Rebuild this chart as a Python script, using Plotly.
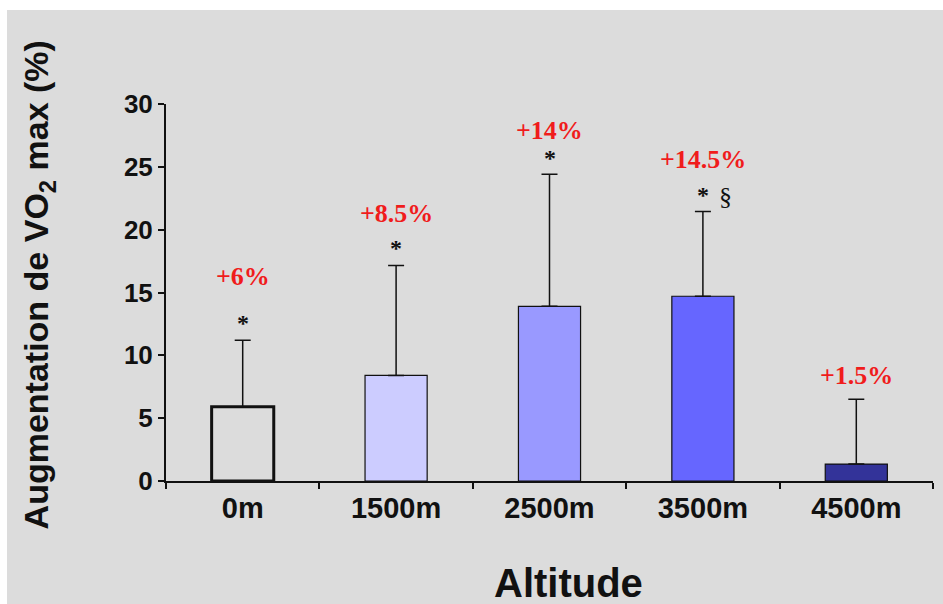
import plotly.graph_objects as go

# ---- data ----
categories = ["0m", "1500m", "2500m", "3500m", "4500m"]
values = [5.9, 8.4, 13.9, 14.7, 1.35]
sd_upper = [5.3, 8.75, 10.5, 6.75, 5.15]
pct_labels = ["+6%", "+8.5%", "+14%", "+14.5%", "+1.5%"]
sig_star = ["*", "*", "*", "*", ""]
sig_extra = ["", "", "", "§", ""]
y_ticks = [0, 5, 10, 15, 20, 25, 30]

# ---- style ----
bar_colors = ["rgba(0,0,0,0)", "#ccccff", "#9999ff", "#6666ff", "#333399"]
bar_line_w = [3, 1.2, 1.2, 1.2, 1.2]
pct_shift = [64, 52, 44, 52, 24]      # px above the error cap
star_shift = [17, 17, 16, 16, 0]
red = "#f01c1c"

fig = go.Figure()
fig.add_trace(go.Bar(
    x=categories, y=values, width=0.405,
    marker=dict(color=bar_colors, line=dict(color="#111111", width=bar_line_w)),
    error_y=dict(type="data", symmetric=False, array=sd_upper,
                 arrayminus=[0] * len(values), color="#111111",
                 thickness=1.5, width=8),
    showlegend=False, hoverinfo="skip",
))

caps = [v + s for v, s in zip(values, sd_upper)]
for c, cap, p, ps, st, ss, ex in zip(categories, caps, pct_labels, pct_shift,
                                      sig_star, star_shift, sig_extra):
    fig.add_annotation(x=c, y=cap, yshift=ps, text=f"<b>{p}</b>", showarrow=False,
                       font=dict(family="Liberation Serif", size=26, color=red),
                       yanchor="middle", xanchor="center")
    if st:
        fig.add_annotation(x=c, y=cap, yshift=ss, text=f"<b>{st}</b>", showarrow=False,
                           font=dict(family="Liberation Serif", size=24, color="#111111"),
                           yanchor="middle", xanchor="center")
    if ex:
        fig.add_annotation(x=c, y=cap, yshift=15, xshift=23, text=ex, showarrow=False,
                           font=dict(family="Liberation Serif", size=26, color="#111111"),
                           yanchor="middle", xanchor="center")

# y title and x title as annotations
fig.add_annotation(xref="paper", yref="paper", x=-0.165, y=0.52, textangle=-90,
                   text="Augmentation de VO<sub>2</sub> max (%)", showarrow=False,
                   font=dict(family="Liberation Sans", size=34, color="#111111", weight="bold"),
                   xanchor="center", yanchor="middle")
fig.add_annotation(xref="paper", yref="paper", x=0.525, y=-0.27,
                   text="Altitude", showarrow=False,
                   font=dict(family="Liberation Sans", size=40, color="#111111", weight="bold"),
                   xanchor="center", yanchor="middle")

# gray panel with white border
fig.add_shape(type="rect", xref="paper", yref="paper", x0=-0.2073, x1=1.02,
              y0=-0.34, y1=1.2493, fillcolor="#dcdcdc", line=dict(width=0), layer="below")

fig.update_layout(
    width=943, height=604,
    margin=dict(l=166, r=10, t=104, b=123),
    paper_bgcolor="#ffffff", plot_bgcolor="rgba(0,0,0,0)",
)
fig.update_xaxes(
    showline=True, linecolor="#111111", linewidth=2,
    ticks="outside", tickson="boundaries", ticklen=6, tickwidth=2, tickcolor="#111111",
    tickfont=dict(family="Liberation Sans", size=29, color="#111111", weight="bold"),
    showgrid=False, zeroline=False, fixedrange=True,
)
fig.update_yaxes(
    range=[0, 30], tickvals=y_ticks, showline=True, linecolor="#111111", linewidth=2,
    ticks="outside", ticklen=6, tickwidth=2, tickcolor="#111111",
    tickfont=dict(family="Liberation Sans", size=26, color="#111111", weight="bold"),
    showgrid=False, zeroline=False, fixedrange=True,
)

fig.write_html("out.html", config={"displayModeBar": False},
               post_script="document.body.style.margin='0';document.body.style.overflow='hidden';")
